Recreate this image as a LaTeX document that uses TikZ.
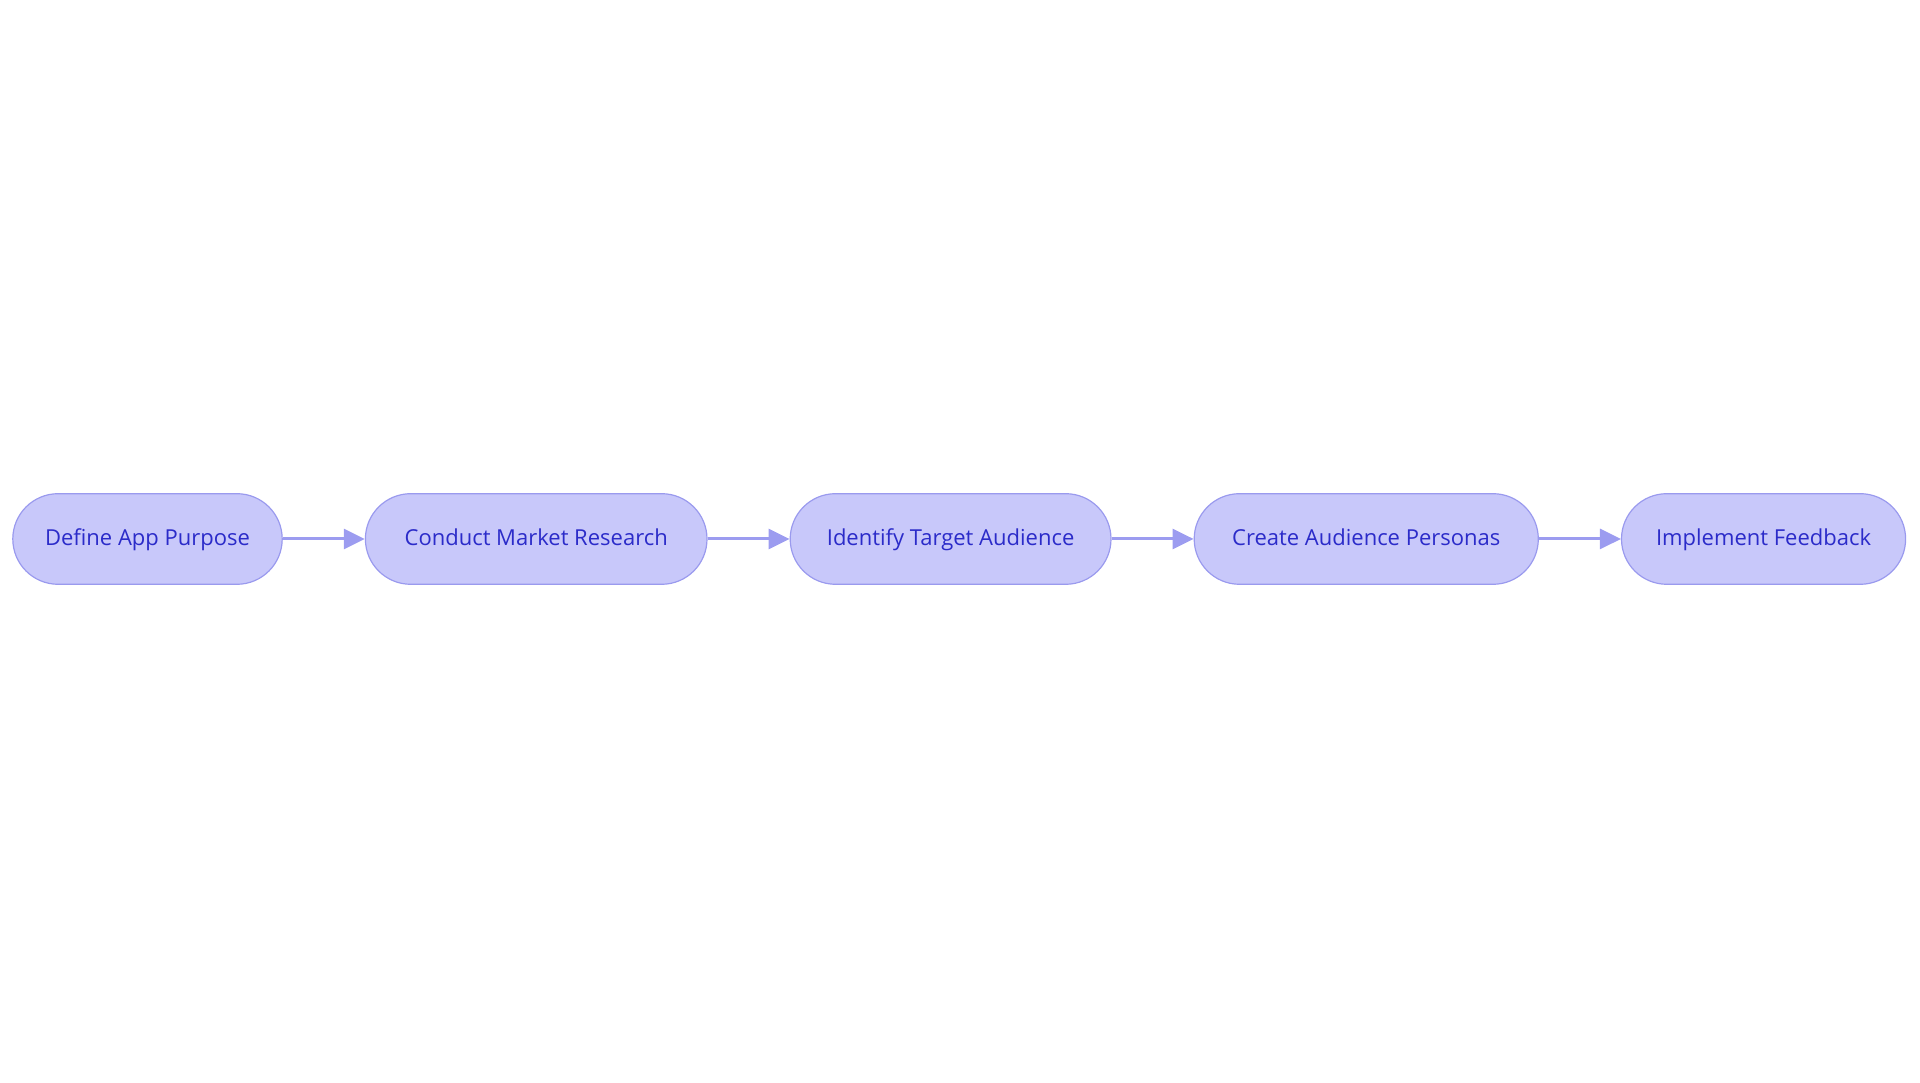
\documentclass[tikz,border=0pt]{standalone}
\usepackage{fontspec}
\setmainfont{Open Sans}
\usetikzlibrary{positioning}
\usetikzlibrary{arrows.meta}
\definecolor{stepfill}{HTML}{C8C8FA}
\definecolor{stepline}{HTML}{9A9AEE}
\definecolor{steptext}{HTML}{2B2BC9}
\definecolor{flowline}{HTML}{9C9CF0}
\tikzset{stepbox/.style = {draw=stepline, line width=1.2pt, fill=stepfill,
                           rounded corners=45.3pt, minimum height=90.6pt,
                           text height=18pt, text depth=4pt,
                           text=steptext, font=\fontsize{22}{26}\selectfont},
         flow/.style = {draw=flowline, line width=3pt,
                        -{Triangle[length=21pt, width=20pt]}}}

\begin{document}
\begin{tikzpicture}[x=1pt, y=1pt]
      \useasboundingbox (0, 0) rectangle (1920, 1083);
      \node [stepbox, minimum width=269.4pt] (purpose) at (147.5, 544) {Define App Purpose};
      \node [stepbox, minimum width=341.6pt, right=82pt of purpose] (research) {Conduct Market Research};
      \node [stepbox, minimum width=320.8pt, right=82pt of research] (audience) {Identify Target Audience};
      \node [stepbox, minimum width=344.1pt, right=82pt of audience] (personas) {Create Audience Personas};
      \node [stepbox, minimum width=284.1pt, right=82pt of personas] (feedback) {Implement Feedback};
      \draw [flow] (purpose) -- (research);
      \draw [flow] (research) -- (audience);
      \draw [flow] (audience) -- (personas);
      \draw [flow] (personas) -- (feedback);
    \end{tikzpicture}
\end{document}
